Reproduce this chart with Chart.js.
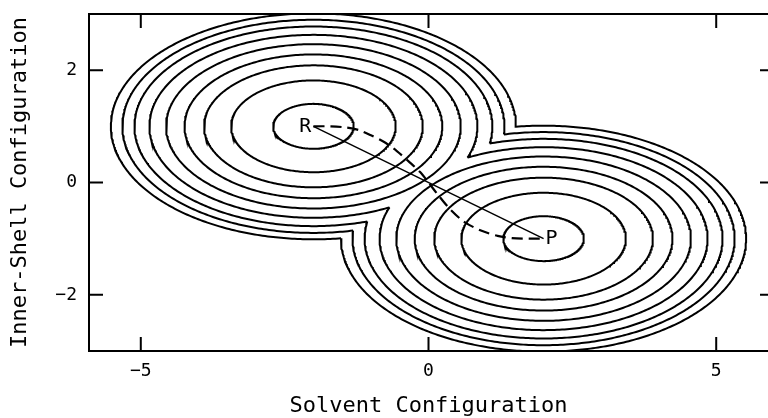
<!DOCTYPE html>
<html>
<head>
<meta charset="utf-8">
<script src="https://cdn.jsdelivr.net/npm/chart.js@4/dist/chart.umd.min.js"></script>
<style>
  html, body { margin: 0; padding: 0; background: #fff; }
  #wrap { width: 768px; height: 418px; }
</style>
</head>
<body>
<div id="wrap"><canvas id="surface" width="768" height="418"></canvas></div>
<script>
// minima of the two wells (solvent, inner-shell)
const wellR = [-2, 1];
const wellP = [2, -1];
// half-width of each contour ring along the solvent axis
const ringHalfWidths = [0.70, 1.43, 1.90, 2.24, 2.56, 2.85, 3.11, 3.32, 3.52];
// solvent half-width / inner-shell half-width of every ring
const ringAspect = 1.75;

// curved (dashed) path from R to P
const pathX = [-2, -1.7, -1.44, -1.2, -1.0, -0.77, -0.55, -0.35, -0.15, 0, 0.15, 0.37, 0.62, 0.9, 1.2, 1.45, 1.75, 2];
const pathY = [1, 1.0, 0.98, 0.93, 0.84, 0.72, 0.56, 0.38, 0.19, 0, -0.2, -0.47, -0.7, -0.85, -0.95, -0.99, -1.0, -1];

const xTicks = [-5, 0, 5];
const yTicks = [-2, 0, 2];

const FONT = 'DejaVu Sans Mono';

// One ring of a well, minus the part that lies inside the same ring of the other well.
// In (x, aspect*y) coordinates each ring is a circle, so the hidden arc is symmetric
// about the direction of the other well.
function ringArc(well, other, hw) {
  const dx = other[0] - well[0];
  const dv = (other[1] - well[1]) * ringAspect;
  const dist = Math.hypot(dx, dv);
  const toward = Math.atan2(dv, dx);
  let half = 0;
  if (dist < 2 * hw) half = Math.acos(dist / (2 * hw));
  const from = toward + half;
  const to = toward + 2 * Math.PI - half;
  const n = 360;
  const pts = [];
  for (let i = 0; i <= n; i++) {
    const t = from + (to - from) * i / n;
    pts.push({ x: well[0] + hw * Math.cos(t), y: well[1] + hw / ringAspect * Math.sin(t) });
  }
  return pts;
}

function lineSet(points, width, dash) {
  return {
    data: points,
    showLine: true,
    borderColor: '#000',
    borderWidth: width,
    borderDash: dash || [],
    pointRadius: 0,
    tension: 0,
    fill: false
  };
}

const datasets = [];
ringHalfWidths.forEach(hw => {
  datasets.push(lineSet(ringArc(wellR, wellP, hw), 2));
  datasets.push(lineSet(ringArc(wellP, wellR, hw), 2));
});
datasets.push(lineSet([{ x: wellR[0], y: wellR[1] }, { x: wellP[0], y: wellP[1] }], 1.5));
const dashed = lineSet(pathX.map((x, i) => ({ x: x, y: pathY[i] })), 2.2, [11, 6]);
dashed.tension = 0.3;
datasets.push(dashed);

// box, inward tick marks and the R / P labels
const framePlugin = {
  id: 'frame',
  afterDatasetsDraw(chart) {
    const { ctx, chartArea, scales } = chart;
    const { left, right, top, bottom } = chartArea;
    const x = scales.x, y = scales.y;
    ctx.save();
    ctx.strokeStyle = '#000';
    ctx.lineWidth = 2;
    ctx.beginPath();
    ctx.moveTo(right, top); ctx.lineTo(left, top); ctx.lineTo(left, bottom); ctx.lineTo(right, bottom);
    xTicks.forEach(v => {
      const px = x.getPixelForValue(v);
      ctx.moveTo(px, bottom); ctx.lineTo(px, bottom - 14);
      ctx.moveTo(px, top); ctx.lineTo(px, top + 14);
    });
    yTicks.forEach(v => {
      const py = y.getPixelForValue(v);
      ctx.moveTo(left, py); ctx.lineTo(left + 14, py);
      ctx.moveTo(right, py); ctx.lineTo(right - 8, py);
    });
    ctx.stroke();

    ctx.fillStyle = '#000';
    ctx.font = '20px "' + FONT + '"';
    ctx.textBaseline = 'middle';
    ctx.textAlign = 'right';
    ctx.fillText('R', x.getPixelForValue(wellR[0]) - 2, y.getPixelForValue(wellR[1]));
    ctx.textAlign = 'left';
    ctx.fillText('P', x.getPixelForValue(wellP[0]) + 2, y.getPixelForValue(wellP[1]));
    ctx.restore();
  }
};

const minus = v => String(v).replace('-', '\u2212');

new Chart(document.getElementById('surface'), {
  type: 'scatter',
  data: { datasets: datasets },
  options: {
    responsive: false,
    animation: false,
    layout: { autoPadding: false, padding: { top: 14, right: 0, bottom: 0, left: 0 } },
    plugins: { legend: { display: false }, tooltip: { enabled: false } },
    scales: {
      x: {
        type: 'linear',
        min: -5.9,
        max: 5.9,
        afterBuildTicks: axis => { axis.ticks = xTicks.map(v => ({ value: v })); },
        afterFit: axis => { axis.height = 67; axis.paddingLeft = 0; axis.paddingRight = 0; },
        grid: { display: false, drawTicks: false },
        border: { display: false },
        ticks: { padding: 10, color: '#000', font: { family: FONT, size: 18 }, callback: minus },
        title: {
          display: true,
          text: 'Solvent Configuration',
          color: '#000',
          font: { family: FONT, size: 22, lineHeight: 1 },
          padding: { top: 0, bottom: 1 }
        }
      },
      y: {
        type: 'linear',
        min: -3,
        max: 3,
        afterBuildTicks: axis => { axis.ticks = yTicks.map(v => ({ value: v })); },
        afterFit: axis => { axis.width = 89; axis.paddingTop = 0; axis.paddingBottom = 0; },
        grid: { display: false, drawTicks: false },
        border: { display: false },
        ticks: { padding: 12, color: '#000', font: { family: FONT, size: 18 }, callback: minus },
        title: {
          display: true,
          text: 'Inner-Shell Configuration',
          color: '#000',
          font: { family: FONT, size: 22, lineHeight: 1.2 },
          padding: { top: 7, bottom: 0 }
        }
      }
    }
  },
  plugins: [framePlugin]
});
</script>
</body>
</html>
